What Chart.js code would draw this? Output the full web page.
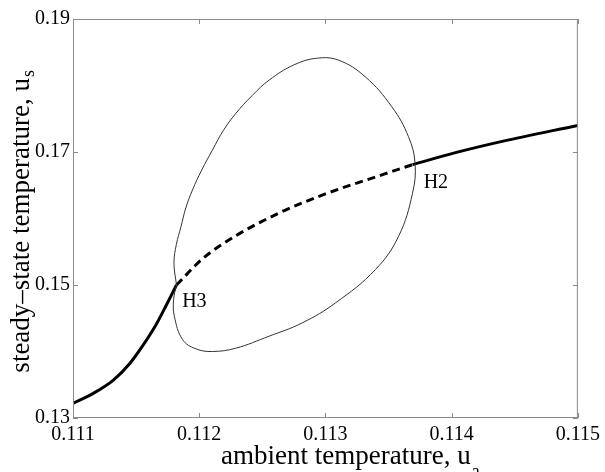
<!DOCTYPE html>
<html>
<head>
<meta charset="utf-8">
<script src="https://cdn.jsdelivr.net/npm/chart.js@4.4.1/dist/chart.umd.min.js"></script>
<style>
  html, body { margin: 0; padding: 0; background: #fff; }
  canvas { display: block; }
</style>
</head>
<body>
<canvas id="bifChart" width="605" height="472"></canvas>
<script>
// === DATA ===
const xTicks = [0.111, 0.112, 0.113, 0.114, 0.115];
const yTicks = [0.13, 0.15, 0.17, 0.19];

// stable branch below H3
const stableLowX = [0.11100, 0.11116, 0.11132, 0.11145, 0.11155, 0.11166, 0.11174, 0.11182];
const stableLowY = [0.1322, 0.1337, 0.1357, 0.1382, 0.1408, 0.1441, 0.1470, 0.1500];

// unstable branch H3 -> H2
const unstableX = [0.11182, 0.11203, 0.11229, 0.11263, 0.11300, 0.11347, 0.11369];
const unstableY = [0.1500, 0.1540, 0.1574, 0.1608, 0.1637, 0.1667, 0.1681];

// stable branch above H2
const stableHighX = [0.11369, 0.11403, 0.11440, 0.11500];
const stableHighY = [0.1681, 0.1699, 0.1716, 0.1740];

// periodic orbit amplitude loop (clockwise from H3)
const loopX = [0.111820, 0.111800, 0.111819, 0.111856, 0.111894, 0.111947, 0.112020, 0.112105, 0.112190, 0.112290,
               0.112420, 0.112553, 0.112750, 0.112932, 0.113105, 0.113316, 0.113526, 0.113658, 0.113710, 0.113690,
               0.113579, 0.113395, 0.113079, 0.112816, 0.112553, 0.112290, 0.112105, 0.111974, 0.111868,
               0.111803, 0.111797, 0.111820];
const loopY = [0.1500, 0.1533, 0.1561, 0.1588, 0.1616, 0.1643, 0.1673, 0.1703, 0.1732, 0.1758,
               0.1785, 0.1808, 0.1831, 0.1841, 0.1838, 0.1813, 0.1768, 0.1723, 0.1683, 0.1638,
               0.1573, 0.1523, 0.1473, 0.1443, 0.1423, 0.1405, 0.1400, 0.1404, 0.1418,
               0.1453, 0.1478, 0.1500];

const labelText = ['H3', 'H2'];
const labelX = [0.111865, 0.113778];
const labelY = [0.1475, 0.1654];

const pts = (xs, ys) => xs.map((x, i) => ({ x, y: ys[i] }));

const SERIF = '"Liberation Serif", "DejaVu Serif", serif';

// frame, inward ticks, axis titles and H labels
const decorations = {
    id: 'decorations',
    afterDraw(chart) {
        const { ctx, chartArea: a, scales: { x, y } } = chart;
        ctx.save();
        ctx.strokeStyle = '#8a8a8a';
        ctx.lineWidth = 1;
        ctx.strokeRect(a.left + 0.5, a.top + 0.5, a.right - a.left - 1, a.bottom - a.top - 1);
        const t = 5;
        ctx.beginPath();
        xTicks.forEach(v => {
            const px = Math.round(x.getPixelForValue(v)) + 0.5;
            ctx.moveTo(px, a.bottom); ctx.lineTo(px, a.bottom - t);
            ctx.moveTo(px, a.top); ctx.lineTo(px, a.top + t);
        });
        yTicks.forEach(v => {
            const py = Math.round(y.getPixelForValue(v)) + 0.5;
            ctx.moveTo(a.left, py); ctx.lineTo(a.left + t, py);
            ctx.moveTo(a.right, py); ctx.lineTo(a.right - t, py);
        });
        ctx.stroke();

        ctx.fillStyle = '#000';
        ctx.font = '20px ' + SERIF;
        ctx.textBaseline = 'middle';
        ctx.textAlign = 'left';
        labelText.forEach((s, i) => {
            ctx.fillText(s, x.getPixelForValue(labelX[i]), y.getPixelForValue(labelY[i]));
        });

        // x title with subscript
        ctx.font = '27px ' + SERIF;
        ctx.textBaseline = 'alphabetic';
        const xt = 'ambient temperature, u';
        const xw = ctx.measureText(xt).width;
        const xl = 221;
        ctx.fillText(xt, xl, 464);
        ctx.font = '18px ' + SERIF;
        ctx.fillText('a', xl + xw + 1, 477);

        // y title rotated, with subscript
        ctx.translate(29, 0);
        ctx.rotate(-Math.PI / 2);
        ctx.font = '27px ' + SERIF;
        const yt = 'steady\u2013state temperature, u';
        const yw = ctx.measureText(yt).width;
        const yl = -(78 + yw);
        ctx.fillText(yt, yl, 0);
        ctx.font = '18px ' + SERIF;
        ctx.fillText('s', yl + yw + 1, 5);
        ctx.restore();
    }
};

new Chart(document.getElementById('bifChart').getContext('2d'), {
    type: 'scatter',
    data: {
        datasets: [
            { data: pts(loopX, loopY), borderColor: '#333', borderWidth: 1, tension: 0.4 },
            { data: pts(stableLowX, stableLowY), borderColor: '#000', borderWidth: 3, cubicInterpolationMode: 'monotone' },
            { data: pts(unstableX, unstableY), borderColor: '#000', borderWidth: 3, borderDash: [8, 5], cubicInterpolationMode: 'monotone' },
            { data: pts(stableHighX, stableHighY), borderColor: '#000', borderWidth: 3, cubicInterpolationMode: 'monotone' }
        ].map(d => ({ ...d, showLine: true, pointRadius: 0, pointHoverRadius: 0, fill: false }))
    },
    options: {
        responsive: false, animation: false,
        layout: { padding: { top: 19, right: 25, left: 0, bottom: 0 } },
        plugins: { legend: { display: false }, tooltip: { enabled: false } },
        scales: {
            x: {
                type: 'linear', min: 0.111, max: 0.115,
                grid: { display: false, drawTicks: false }, border: { display: false },
                afterBuildTicks: s => { s.ticks = xTicks.map(v => ({ value: v })); },
                afterFit: s => { s.height = 54; },
                ticks: { color: '#000', padding: 5, font: { family: SERIF, size: 20 }, callback: v => v.toFixed(3), maxRotation: 0 }
            },
            y: {
                type: 'linear', min: 0.13, max: 0.19,
                grid: { display: false, drawTicks: false }, border: { display: false },
                afterBuildTicks: s => { s.ticks = yTicks.map(v => ({ value: v })); },
                afterFit: s => { s.width = 73; },
                ticks: { color: '#000', padding: 3, font: { family: SERIF, size: 20 }, callback: v => v.toFixed(2) }
            }
        }
    },
    plugins: [decorations]
});
</script>
</body>
</html>
